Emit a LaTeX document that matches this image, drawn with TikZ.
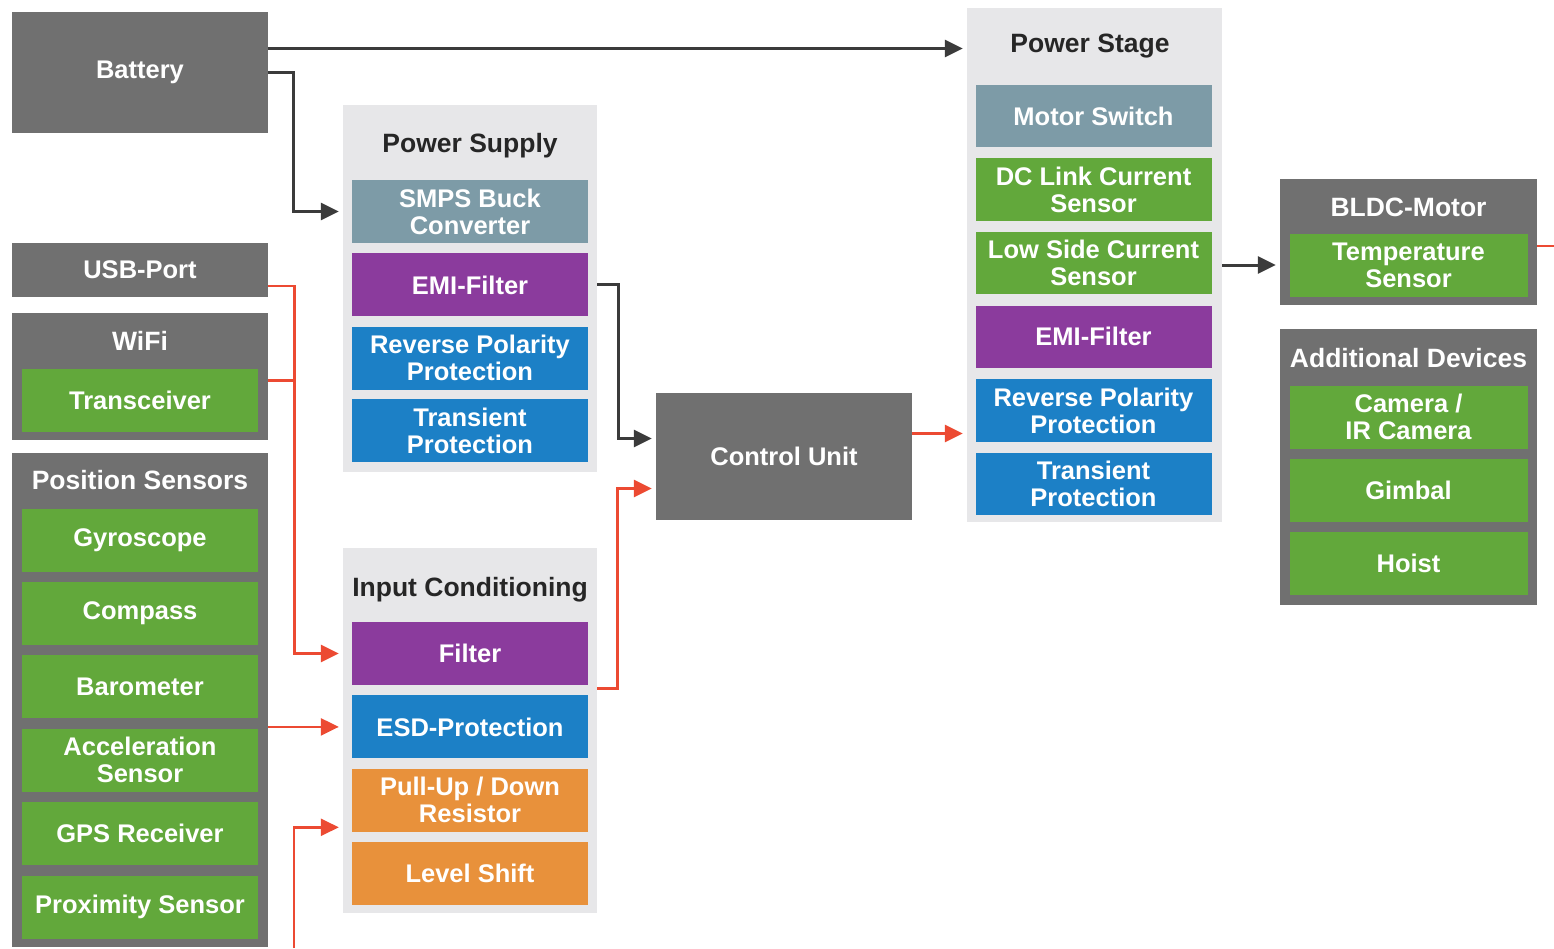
\documentclass[tikz,border=0pt]{standalone}
\usepackage{fontspec}
\setmainfont{Liberation Sans}
\usepackage{xcolor}
\usetikzlibrary{positioning}
\usetikzlibrary{arrows.meta}

\definecolor{boxgray}{HTML}{707070}
\definecolor{grpgray}{HTML}{E7E7E9}
\definecolor{cgreen}{HTML}{62A83B}
\definecolor{cpurple}{HTML}{8B3B9D}
\definecolor{cblue}{HTML}{1C80C6}
\definecolor{cslate}{HTML}{7D9BA7}
\definecolor{corange}{HTML}{E8913B}
\definecolor{cred}{HTML}{EC4A32}
\definecolor{cdark}{HTML}{3B3B3B}

\begin{document}
\begin{tikzpicture}[x=1pt, y=-1pt,
  font=\fontsize{25.5}{27}\selectfont\bfseries,
  outer/.style={rectangle, fill=boxgray, inner sep=0pt, text=white, align=center},
  group/.style={rectangle, fill=grpgray, inner sep=0pt},
  ibox/.style={rectangle, inner sep=0pt, text=white, align=center, minimum width=236pt, minimum height=63pt},
  title/.style={inner sep=0pt, text=black!85, font=\fontsize{26.5}{28}\selectfont\bfseries},
  darr/.style={draw=cdark, line width=3pt, -{Triangle[length=18pt,width=17pt]}, shorten >=4pt},
  rarr/.style={draw=cred, line width=2.6pt, -{Triangle[length=18pt,width=17pt]}, shorten >=4pt},
  rline/.style={draw=cred, line width=2.6pt}]

\useasboundingbox[fill=white] (0,0) rectangle (1554,948);

% left column
\node[outer, minimum width=256pt, minimum height=121pt] (batt) at (140,72.5) {Battery};
\node[outer, minimum width=256pt, minimum height=54pt] (usb) at (140,270) {USB-Port};

\node[outer, minimum width=256pt, minimum height=127pt] (wifi) at (140,376.5) {};
\node[title, text=white] (wifihd) at (140,341) {WiFi};
\node[ibox, fill=cgreen] (trx) at (140,400.5) {Transceiver};

\node[outer, minimum width=256pt, minimum height=494pt] (pos) at (140,700) {};
\node[title, text=white] (poshd) at (140,480) {Position Sensors};
\node[ibox, fill=cgreen] (gyro) at (140,540) {Gyroscope};
\node[ibox, fill=cgreen, below=10pt of gyro] (comp) {Compass};
\node[ibox, fill=cgreen, below=10pt of comp] (baro) {Barometer};
\node[ibox, fill=cgreen, below=10pt of baro] (accel) {Acceleration\\Sensor};
\node[ibox, fill=cgreen, below=10pt of accel] (gps) {GPS Receiver};
\node[ibox, fill=cgreen, below=10pt of gps] (prox) {Proximity Sensor};

% power supply
\node[group, minimum width=254pt, minimum height=367pt] (psup) at (470,288.5) {};
\node[title] (psuphd) at (470,146) {Power Supply};
\node[ibox, fill=cslate] (smps) at (470,211.5) {SMPS Buck\\Converter};
\node[ibox, fill=cpurple, below=10pt of smps] (emia) {EMI-Filter};
\node[ibox, fill=cblue, below=10pt of emia] (rppa) {Reverse Polarity\\Protection};
\node[ibox, fill=cblue, below=9pt of rppa] (tpa) {Transient\\Protection};

% input conditioning
\node[group, minimum width=254pt, minimum height=365pt] (inc) at (470,730.5) {};
\node[title] (inchd) at (470,590) {Input Conditioning};
\node[ibox, fill=cpurple] (filt) at (470,653.5) {Filter};
\node[ibox, fill=cblue, below=10pt of filt] (esd) {ESD-Protection};
\node[ibox, fill=corange, below=10pt of esd] (pull) {Pull-Up / Down\\Resistor};
\node[ibox, fill=corange, below=10pt of pull] (lvl) {Level Shift};

% control unit
\node[outer, minimum width=256pt, minimum height=127pt] (ctrl) at (784,456.5) {Control Unit};

% power stage
\node[group, minimum width=255pt, minimum height=514pt] (pstg) at (1094.5,265) {};
\node[title] (pstghd) at (1090,46) {Power Stage};
\node[ibox, fill=cslate, minimum height=62.5pt] (msw) at (1093.5,116) {Motor Switch};
\node[ibox, fill=cgreen, minimum height=62.5pt, below=10.7pt of msw] (dcl) {DC Link Current\\Sensor};
\node[ibox, fill=cgreen, minimum height=62.5pt, below=10.7pt of dcl] (lsc) {Low Side Current\\Sensor};
\node[ibox, fill=cpurple, minimum height=62.5pt, below=10.7pt of lsc] (emib) {EMI-Filter};
\node[ibox, fill=cblue, minimum height=62.5pt, below=10.7pt of emib] (rppb) {Reverse Polarity\\Protection};
\node[ibox, fill=cblue, minimum height=62.5pt, below=10.7pt of rppb] (tpb) {Transient\\Protection};

% motor and devices
\node[outer, minimum width=257pt, minimum height=126pt] (bldc) at (1408.5,242) {};
\node[title, text=white] (bldchd) at (1408.5,207) {BLDC-Motor};
\node[ibox, fill=cgreen, minimum width=238pt] (temp) at (1408.5,265.5) {Temperature\\Sensor};

\node[outer, minimum width=257pt, minimum height=276pt] (adev) at (1408.5,467) {};
\node[title, text=white] (adevhd) at (1408.5,358) {Additional Devices};
\node[ibox, fill=cgreen, minimum width=238pt] (cam) at (1408.5,417) {Camera /\\IR Camera};
\node[ibox, fill=cgreen, minimum width=238pt, below=10pt of cam] (gimb) {Gimbal};
\node[ibox, fill=cgreen, minimum width=238pt, below=10pt of gimb] (hoist) {Hoist};

% free ends
\coordinate (pbot) at (294,948);
\coordinate (redge) at (1554,246);

% connectors
\draw[darr] ([yshift=24pt]batt.east) -- ([yshift=24pt]batt.east -| pstg.west);
\draw[darr] (batt.east) -- ++(25,0) |- (psup.west |- smps.west);
\draw[darr] (psup.east |- emia.east) -- ++(21,0) |- ([yshift=18pt]ctrl.west);
\draw[darr] (pstg.east) -- (bldc.west |- pstg.east);

\draw[rarr] ([yshift=-16pt]usb.east) -- ++(26,0) |- (inc.west |- filt.west);
\draw[rline] ([yshift=-4pt]wifi.east) -- ++(26,0);
\draw[rarr] (pos.east |- esd.west) -- (inc.west |- esd.west);
\draw[rarr] (pbot) |- ([yshift=-27pt]inc.west |- pull.west);
\draw[rarr] ([yshift=-35pt]inc.east |- filt.east) -- ++(20,0) |- ([yshift=-32pt]ctrl.west);
\draw[rarr] ([yshift=23pt]ctrl.east) -- ([yshift=23pt]ctrl.east -| pstg.west);
\draw[rline] (bldc.east |- redge) -- (redge);

\end{tikzpicture}
\end{document}
